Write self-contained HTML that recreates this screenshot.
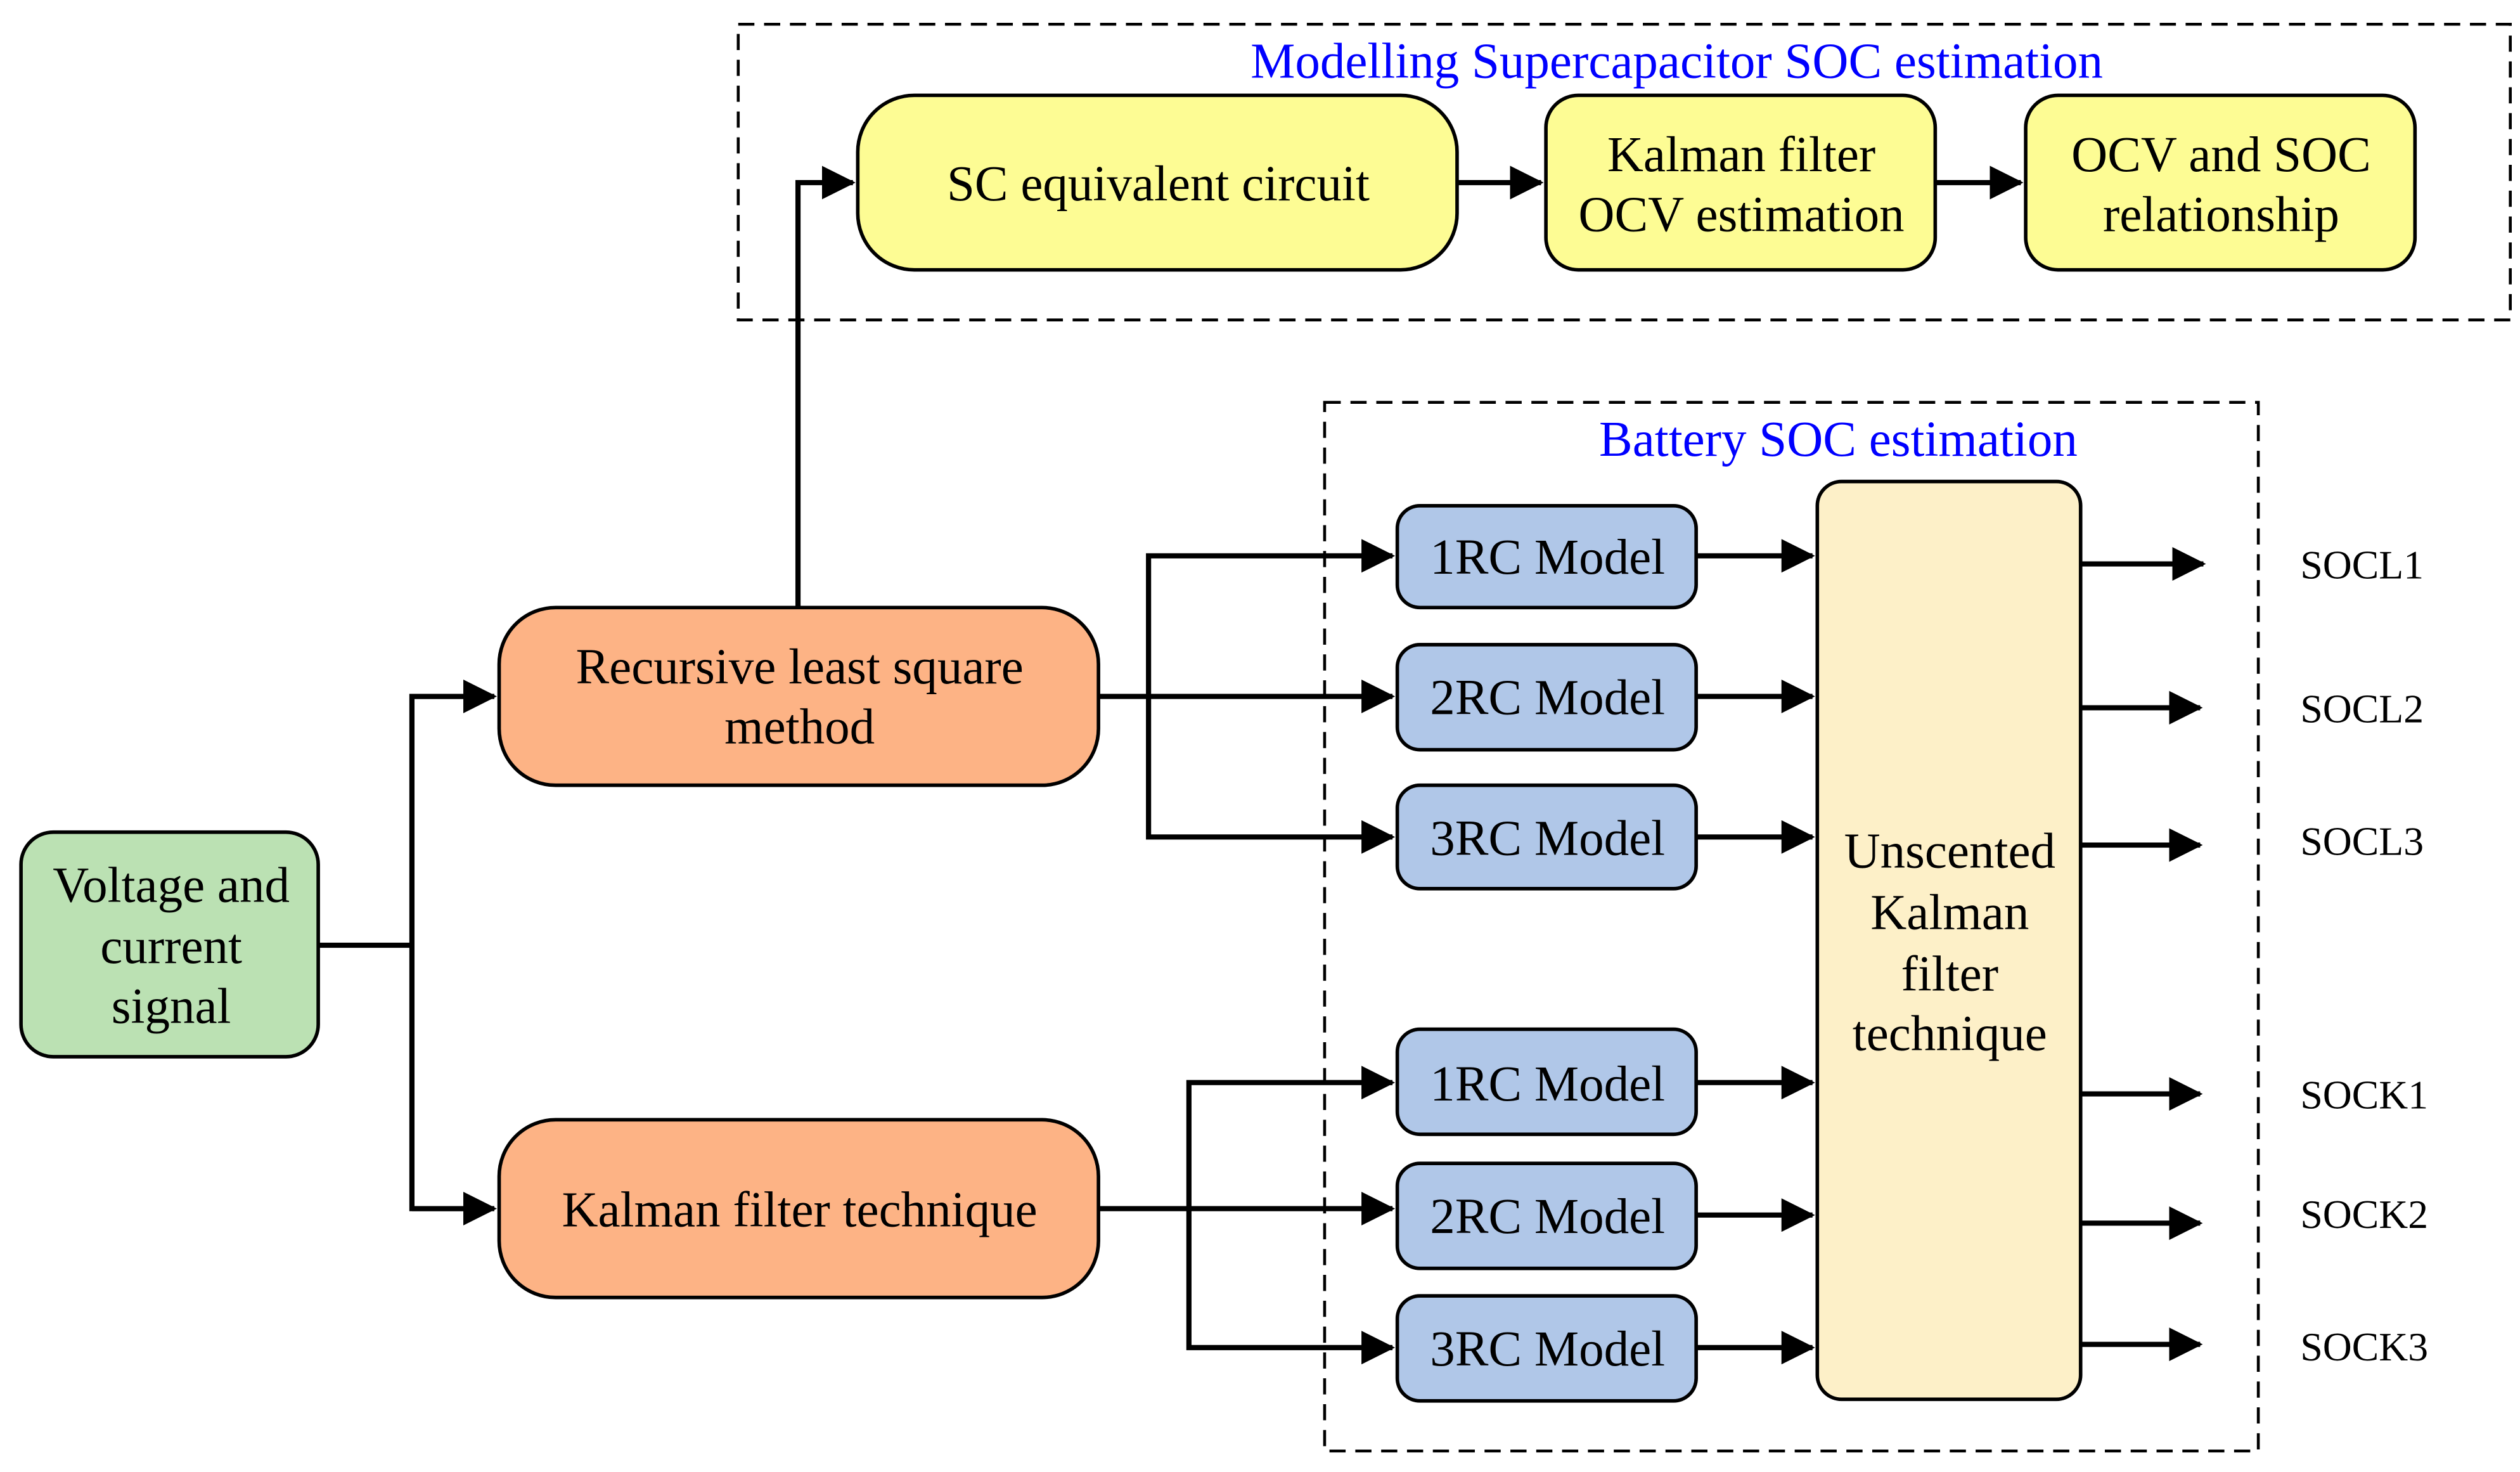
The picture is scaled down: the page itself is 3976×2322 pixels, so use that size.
<!DOCTYPE html>
<html><head><meta charset="utf-8"><style>html,body{margin:0;padding:0;background:#fff}svg{display:block}</style></head>
<body>
<svg width="3976" height="2322" viewBox="0 0 1560 911" preserveAspectRatio="none" xmlns="http://www.w3.org/2000/svg" font-family="'Liberation Serif', serif">
<defs>
<marker id="a" markerWidth="6.5" markerHeight="6.5" refX="6" refY="3.25" orient="auto" markerUnits="strokeWidth">
<path d="M0,0 L6.5,3.25 L0,6.5 Z" fill="#000"/></marker>
</defs>
<rect x="457" y="15" width="1097" height="183" fill="none" stroke="#000" stroke-width="1.8" stroke-dasharray="10,6"/>
<rect x="820" y="249" width="578" height="649" fill="none" stroke="#000" stroke-width="1.8" stroke-dasharray="10,6"/>
<text x="1038" y="48" font-size="31" fill="#0000ff" text-anchor="middle">Modelling Supercapacitor SOC estimation</text>
<text x="1138" y="282" font-size="31" fill="#0000ff" text-anchor="middle">Battery SOC estimation</text>

<g stroke="#000" stroke-width="3.2" fill="none">
<polyline points="197,585 255,585"/>
<polyline points="290,431 255,431 255,748 290,748"/>
<line x1="255" y1="431" x2="306" y2="431" marker-end="url(#a)"/>
<line x1="255" y1="748" x2="306" y2="748" marker-end="url(#a)"/>
<polyline points="494,378 494,113 528,113" marker-end="url(#a)"/>
<line x1="902" y1="113" x2="954" y2="113" marker-end="url(#a)"/>
<line x1="1198" y1="113" x2="1251" y2="113" marker-end="url(#a)"/>
<line x1="680" y1="431" x2="862" y2="431" marker-end="url(#a)"/>
<polyline points="711,431 711,344 862,344" marker-end="url(#a)"/>
<polyline points="711,431 711,518 862,518" marker-end="url(#a)"/>
<line x1="680" y1="748" x2="862" y2="748" marker-end="url(#a)"/>
<polyline points="736,748 736,670 862,670" marker-end="url(#a)"/>
<polyline points="736,748 736,834 862,834" marker-end="url(#a)"/>
<line x1="1050" y1="344" x2="1122" y2="344" marker-end="url(#a)"/>
<line x1="1050" y1="431" x2="1122" y2="431" marker-end="url(#a)"/>
<line x1="1050" y1="518" x2="1122" y2="518" marker-end="url(#a)"/>
<line x1="1050" y1="670" x2="1122" y2="670" marker-end="url(#a)"/>
<line x1="1050" y1="752" x2="1122" y2="752" marker-end="url(#a)"/>
<line x1="1050" y1="834" x2="1122" y2="834" marker-end="url(#a)"/>
<line x1="1288" y1="349" x2="1364" y2="349" marker-end="url(#a)"/>
<line x1="1288" y1="438" x2="1362" y2="438" marker-end="url(#a)"/>
<line x1="1288" y1="523" x2="1362" y2="523" marker-end="url(#a)"/>
<line x1="1288" y1="677" x2="1362" y2="677" marker-end="url(#a)"/>
<line x1="1288" y1="757" x2="1362" y2="757" marker-end="url(#a)"/>
<line x1="1288" y1="832" x2="1362" y2="832" marker-end="url(#a)"/>
</g>

<g stroke="#000" stroke-width="2.2">
<rect x="13" y="515" width="184" height="139" rx="20" fill="#bbe1b3"/>
<rect x="309" y="376" width="371" height="110" rx="35" fill="#fdb385"/>
<rect x="309" y="693" width="371" height="110" rx="35" fill="#fdb385"/>
<rect x="531" y="59" width="371" height="108" rx="35" fill="#fdfc94"/>
<rect x="957" y="59" width="241" height="108" rx="20" fill="#fdfc94"/>
<rect x="1254" y="59" width="241" height="108" rx="20" fill="#fdfc94"/>
<rect x="865" y="313" width="185" height="63" rx="14" fill="#b0c7e8"/>
<rect x="865" y="399" width="185" height="65" rx="14" fill="#b0c7e8"/>
<rect x="865" y="486" width="185" height="64" rx="14" fill="#b0c7e8"/>
<rect x="865" y="637" width="185" height="65" rx="14" fill="#b0c7e8"/>
<rect x="865" y="720" width="185" height="65" rx="14" fill="#b0c7e8"/>
<rect x="865" y="802" width="185" height="65" rx="14" fill="#b0c7e8"/>
<rect x="1125" y="298" width="163" height="568" rx="15" fill="#fdf0c8"/>
</g>

<g font-size="31" text-anchor="middle" fill="#000">
<text x="106" y="558">Voltage and</text>
<text x="106" y="596">current</text>
<text x="106" y="633">signal</text>
<text x="495" y="423">Recursive least square</text>
<text x="495" y="460">method</text>
<text x="495" y="759">Kalman filter technique</text>
<text x="717" y="124">SC equivalent circuit</text>
<text x="1078" y="106">Kalman filter</text>
<text x="1078" y="143">OCV estimation</text>
<text x="1375" y="106">OCV and SOC</text>
<text x="1375" y="143">relationship</text>
<text x="958" y="355">1RC Model</text>
<text x="958" y="442">2RC Model</text>
<text x="958" y="529">3RC Model</text>
<text x="958" y="681">1RC Model</text>
<text x="958" y="763">2RC Model</text>
<text x="958" y="845">3RC Model</text>
<text x="1207" y="537">Unscented</text>
<text x="1207" y="575">Kalman</text>
<text x="1207" y="613">filter</text>
<text x="1207" y="650">technique</text>
</g>
<g font-size="25" fill="#000">
<text x="1424" y="358">SOCL1</text>
<text x="1424" y="447">SOCL2</text>
<text x="1424" y="529">SOCL3</text>
<text x="1424" y="686">SOCK1</text>
<text x="1424" y="760">SOCK2</text>
<text x="1424" y="842">SOCK3</text>
</g>
</svg>
</body></html>
